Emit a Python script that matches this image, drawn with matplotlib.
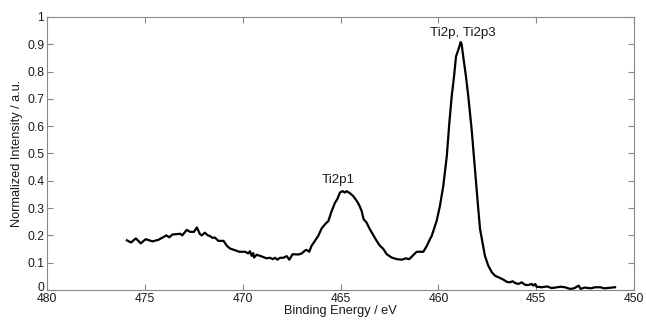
import matplotlib
matplotlib.use("Agg")
import matplotlib.pyplot as plt
from matplotlib.transforms import ScaledTranslation

plt.rcParams['font.family'] = ['Liberation Sans', 'DejaVu Sans']

energy = [475.92, 475.71, 475.46, 475.21, 474.96, 474.61, 474.30, 473.90, 473.75, 473.60,
          473.19, 473.09, 472.86, 472.69, 472.49, 472.34, 472.19, 472.09, 471.94, 471.78,
          471.68, 471.55, 471.42, 471.25, 470.98, 470.81, 470.65, 470.37, 470.17, 469.87,
          469.72, 469.63, 469.54, 469.46, 469.42, 469.28, 469.03, 468.78, 468.61, 468.46,
          468.35, 468.23, 468.09, 467.92, 467.75, 467.62, 467.45, 467.15, 466.98, 466.81,
          466.74, 466.60, 466.48, 466.31, 466.14, 465.97, 465.79, 465.62, 465.45, 465.28,
          465.17, 465.03, 464.89, 464.78, 464.69, 464.51, 464.35, 464.17, 464.04, 463.92,
          463.82, 463.67, 463.52, 463.35, 463.19, 463.01, 462.81, 462.64, 462.39, 462.13,
          461.87, 461.66, 461.49, 461.28, 461.11, 460.77, 460.60, 460.43, 460.34, 460.09,
          459.92, 459.75, 459.57, 459.44, 459.32, 459.20, 459.10, 458.98, 458.86, 458.81,
          458.73, 458.59, 458.47, 458.30, 458.13, 457.96, 457.87, 457.62, 457.45, 457.27,
          457.10, 456.85, 456.68, 456.51, 456.34, 456.21, 456.09, 455.91, 455.74, 455.57,
          455.41, 455.23, 455.15, 455.05, 454.98, 454.72, 454.44, 454.21, 453.94, 453.74,
          453.53, 453.27, 453.07, 452.83, 452.73, 452.53, 452.22, 451.99, 451.72, 451.52,
          451.22, 450.97]
intensity = [0.182, 0.174, 0.189, 0.171, 0.186, 0.178, 0.184, 0.200, 0.193, 0.203,
             0.206, 0.200, 0.220, 0.213, 0.213, 0.229, 0.205, 0.200, 0.210, 0.200,
             0.198, 0.191, 0.192, 0.180, 0.180, 0.162, 0.152, 0.145, 0.140, 0.140,
             0.134, 0.142, 0.125, 0.135, 0.119, 0.129, 0.123, 0.116, 0.118, 0.113,
             0.118, 0.111, 0.118, 0.118, 0.124, 0.111, 0.131, 0.130, 0.134, 0.145,
             0.147, 0.140, 0.162, 0.180, 0.198, 0.225, 0.241, 0.253, 0.290, 0.320,
             0.332, 0.357, 0.362, 0.357, 0.362, 0.354, 0.344, 0.326, 0.310, 0.289,
             0.259, 0.247, 0.225, 0.204, 0.184, 0.164, 0.150, 0.131, 0.119, 0.113,
             0.111, 0.116, 0.113, 0.128, 0.140, 0.140, 0.160, 0.186, 0.198, 0.253,
             0.308, 0.381, 0.490, 0.612, 0.709, 0.782, 0.855, 0.880, 0.908, 0.900,
             0.855, 0.782, 0.709, 0.588, 0.440, 0.296, 0.223, 0.125, 0.089, 0.065,
             0.052, 0.044, 0.038, 0.030, 0.028, 0.032, 0.026, 0.022, 0.028, 0.019,
             0.018, 0.022, 0.016, 0.022, 0.012, 0.010, 0.013, 0.007, 0.010, 0.012,
             0.010, 0.004, 0.006, 0.016, 0.004, 0.009, 0.006, 0.010, 0.010, 0.006,
             0.008, 0.010]

x_ticks = [480, 475, 470, 465, 460, 455, 450]
y_ticks = [0, 0.1, 0.2, 0.3, 0.4, 0.5, 0.6, 0.7, 0.8, 0.9, 1]
y_tick_labels = ['0', '0.1', '0.2', '0.3', '0.4', '0.5', '0.6', '0.7', '0.8', '0.9', '1']
peak_labels = ['Ti2p1', 'Ti2p, Ti2p3']
peak_label_pos = [(465.12, 0.403), (458.74, 0.941)]

fig = plt.figure(figsize=(6.46, 3.23), dpi=100)
ax = fig.add_axes([0.0728, 0.1022, 0.9087, 0.8452])
ax.plot(energy, intensity, color='black', lw=1.6)
ax.set_xlim(480, 450)
ax.set_ylim(0, 1)
ax.set_xticks(x_ticks)
ax.set_xticklabels([str(t) for t in x_ticks])
ax.set_yticks(y_ticks)
ax.set_yticklabels(y_tick_labels)
ax.tick_params(direction='in', top=True, right=True, length=4, width=0.8,
               color='#888888', labelsize=8.7, pad=2, labelcolor='#1a1a1a')
for s in ax.spines.values():
    s.set_color('#888888')
    s.set_linewidth(0.8)
ax.set_xlabel('Binding Energy / eV', fontsize=9.2, labelpad=0, color='#1a1a1a')
ax.set_ylabel('Normalized Intensity / a.u.', fontsize=9.2, labelpad=3, color='#1a1a1a')
for lab, (xe, yv) in zip(peak_labels, peak_label_pos):
    ax.text(xe, yv, lab, ha='center', va='center', fontsize=9.6, color='#1a1a1a')

# lift the "0" y tick label slightly so it sits just above the "480" label
zero_lbl = ax.yaxis.get_major_ticks()[0].label1
zero_lbl.set_transform(zero_lbl.get_transform() +
                       ScaledTranslation(0, 2.5 / 72, fig.dpi_scale_trans))

fig.savefig('out.png', dpi=100)
